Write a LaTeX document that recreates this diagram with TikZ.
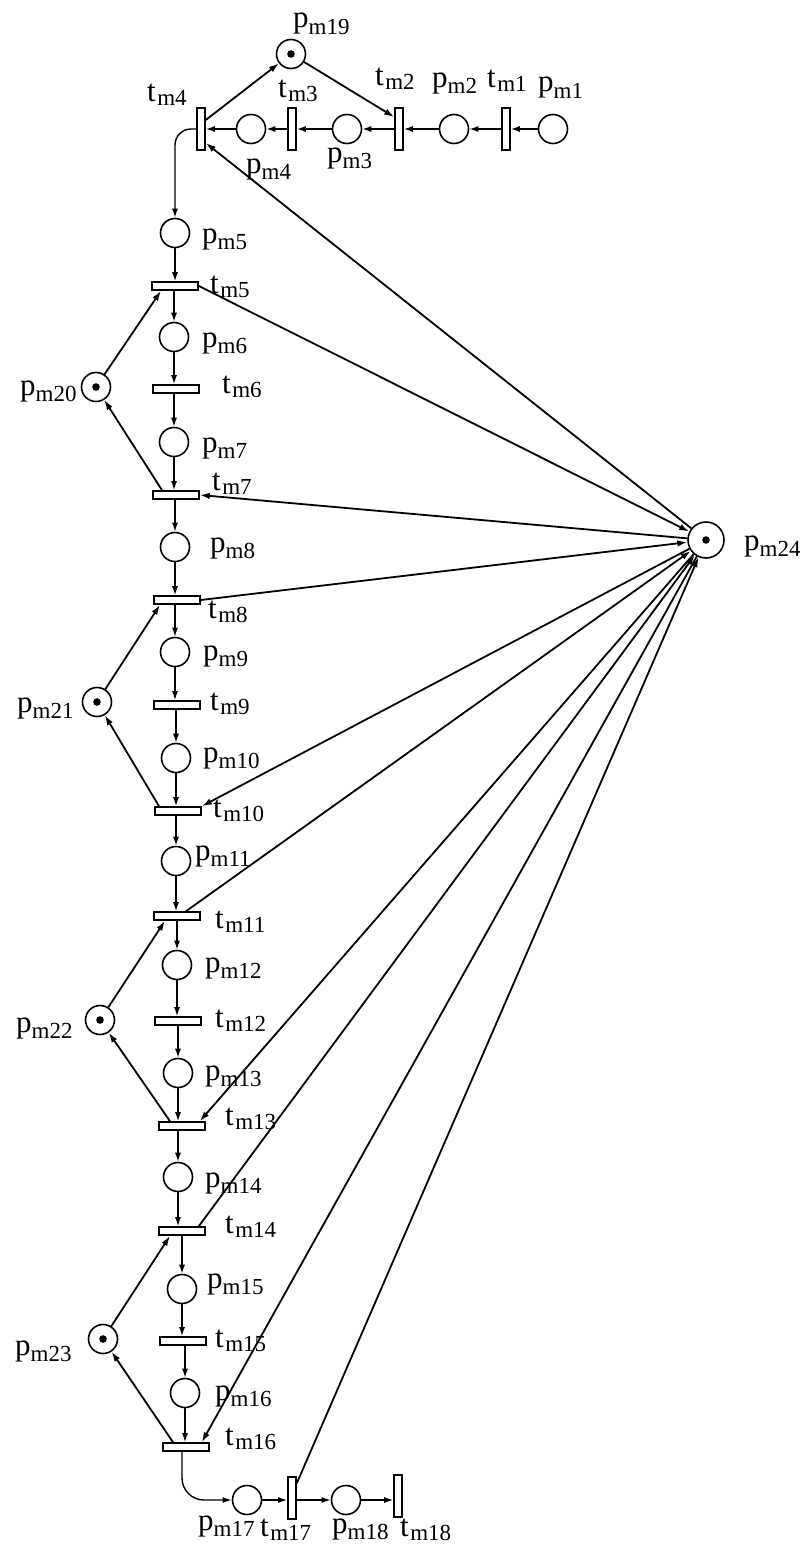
\documentclass[tikz,border=0pt]{standalone}
\usepackage{fontspec}
\setmainfont{Liberation Serif}
\usetikzlibrary{arrows.meta,calc}
\newcommand{\pl}[2]{#1\raisebox{-6pt}{\fontsize{23}{23}\selectfont #2}}
\newcommand{\tl}[2]{#1\kern1.5pt\raisebox{-4pt}{\fontsize{23}{23}\selectfont #2}}
\begin{document}
\begin{tikzpicture}[x=1pt,y=-1pt,
  place/.style={circle,draw,line width=1.6pt,minimum size=29pt,inner sep=0pt,fill=white},
  htr/.style={rectangle,draw,line width=1.6pt,minimum width=46pt,minimum height=8pt,inner sep=0pt,fill=white},
  vtr/.style={rectangle,draw,line width=1.6pt,minimum width=8pt,minimum height=42pt,inner sep=0pt,fill=white},
  lab/.style={anchor=base west,inner sep=0pt,font=\fontsize{31}{31}\selectfont},
  arc/.style={line width=1.8pt,-{Latex[length=10pt,width=6.5pt]}},
  carc/.style={line width=1.4pt,-{Latex[length=9pt,width=6pt]}}
]
\useasboundingbox (0,0) rectangle (800,1555);
% top row
\node[place] (pm1) at (553,129) {};
\node[vtr] (tm1) at (506,129) {};
\node[place] (pm2) at (454,129) {};
\node[vtr] (tm2) at (399,129) {};
\node[place] (pm3) at (347,129) {};
\node[vtr] (tm3) at (292,129) {};
\node[place] (pm4) at (251,129) {};
\node[vtr] (tm4) at (201,129) {};
\node[place] (pm19) at (291,54) {};
% column
\node[place] (pm5) at (175,233) {};
\node[htr] (tm5) at (175,286) {};
\node[place] (pm6) at (174,337) {};
\node[htr] (tm6) at (176,389) {};
\node[place] (pm7) at (174,442) {};
\node[htr] (tm7) at (176,495) {};
\node[place] (pm8) at (175,547) {};
\node[htr] (tm8) at (177,600) {};
\node[place] (pm9) at (175,652) {};
\node[htr] (tm9) at (177,705) {};
\node[place] (pm10) at (176,758) {};
\node[htr] (tm10) at (178,811) {};
\node[place] (pm11) at (176,861) {};
\node[htr] (tm11) at (177,916) {};
\node[place] (pm12) at (177,965) {};
\node[htr] (tm12) at (178,1021) {};
\node[place] (pm13) at (178,1073) {};
\node[htr] (tm13) at (182,1126) {};
\node[place] (pm14) at (178,1177) {};
\node[htr] (tm14) at (182,1231) {};
\node[place] (pm15) at (182,1289) {};
\node[htr] (tm15) at (183,1341) {};
\node[place] (pm16) at (185,1393) {};
\node[htr] (tm16) at (186,1447) {};
% bottom row
\node[place] (pm17) at (247,1500) {};
\node[vtr] (tm17) at (292,1498) {};
\node[place] (pm18) at (346,1500) {};
\node[vtr] (tm18) at (398,1496) {};
% side places
\node[place] (pm20) at (96,387) {};
\node[place] (pm21) at (97,702) {};
\node[place] (pm22) at (100,1020) {};
\node[place] (pm23) at (103,1339) {};
\node[place,minimum size=36pt] (pm24) at (706,540) {};
% tokens
\foreach \n in {pm19,pm20,pm21,pm22,pm23,pm24}
  \fill (\n) circle[radius=3.8pt];
% top row arcs
\draw[carc] (pm1) -- (tm1);
\draw[carc] (tm1) -- (pm2);
\draw[carc] (pm2) -- (tm2);
\draw[carc] (tm2) -- (pm3);
\draw[carc] (pm3) -- (tm3);
\draw[carc] (tm3) -- (pm4);
\draw[carc] (pm4) -- (tm4);
\draw[arc] ([yshift=9pt]tm4.east) -- (pm19);
\draw[arc] (pm19) -- ([yshift=12pt]tm2.west);
\draw[carc,rounded corners=16pt] (tm4.west) -| (pm5.north);
% column arcs
\foreach \a in {5,...,16}
  \draw[carc] (pm\a) -- (pm\a |- tm\a.north);
\foreach \a/\b in {5/6,6/7,7/8,8/9,9/10,10/11,11/12,12/13,13/14,14/15,15/16}
  \draw[carc] (tm\a.south -| pm\b) -- (pm\b);
% bottom arcs
\draw[carc,rounded corners=22pt] ([xshift=-4pt]tm16.south) |- (pm17.west);
\draw[carc] (pm17) -- (pm17 -| tm17.west);
\draw[carc] (pm17 -| tm17.east) -- (pm18);
\draw[carc] (pm18) -- (pm18 -| tm18.west);
% side loops
\draw[arc] (pm20) -- ([xshift=-14pt]tm5.south);
\draw[arc] ([xshift=-14pt]tm7.north) -- (pm20);
\draw[arc] (pm21) -- ([xshift=-17pt]tm8.south);
\draw[arc] ([xshift=-19pt]tm10.north) -- (pm21);
\draw[arc] (pm22) -- ([xshift=-12pt]tm11.south);
\draw[arc] ([xshift=-12pt]tm13.north) -- (pm22);
\draw[arc] (pm23) -- ([xshift=-12pt]tm14.south);
\draw[arc] ([xshift=-13pt]tm16.north) -- (pm23);
% resource place pm24
\draw[arc] (pm24) -- ([yshift=-14pt]tm4.east);
\draw[arc] (tm5.east) -- (pm24);
\draw[arc] (pm24) -- (tm7.east);
\draw[arc] (tm8.east) -- (pm24);
\draw[arc] (pm24) -- (tm10.north east);
\draw[arc] ([xshift=9pt]tm11.north) -- (pm24);
\draw[arc] (pm24) -- ([xshift=-6pt]tm13.north east);
\draw[arc] ([xshift=-7pt]tm14.north east) -- (pm24);
\draw[arc] (pm24) -- ([xshift=-8pt]tm16.north east);
\draw[arc] ([yshift=-7pt]tm17.north east) -- (pm24);
% labels
\node[lab] (lpm19) at (293,28) {\pl{p}{m19}};
\node[lab] (ltm4) at (147,101) {\tl{t}{m4}};
\node[lab] (ltm3) at (278,97) {\tl{t}{m3}};
\node[lab] (ltm2) at (375,85) {\tl{t}{m2}};
\node[lab] (lpm2) at (432,87) {\pl{p}{m2}};
\node[lab] (ltm1) at (487,87) {\tl{t}{m1}};
\node[lab] (lpm1) at (538,92) {\pl{p}{m1}};
\node[lab] (lpm3) at (327,162) {\pl{p}{m3}};
\node[lab] (lpm4) at (246,173) {\pl{p}{m4}};
\node[lab] (lpm5) at (202,243) {\pl{p}{m5}};
\node[lab] (ltm5) at (210,293) {\tl{t}{m5}};
\node[lab] (lpm6) at (202,347) {\pl{p}{m6}};
\node[lab] (ltm6) at (222,393) {\tl{t}{m6}};
\node[lab] (lpm7) at (202,452) {\pl{p}{m7}};
\node[lab] (ltm7) at (212,490) {\tl{t}{m7}};
\node[lab] (lpm8) at (210,552) {\pl{p}{m8}};
\node[lab] (ltm8) at (208,618) {\tl{t}{m8}};
\node[lab] (lpm9) at (203,660) {\pl{p}{m9}};
\node[lab] (ltm9) at (210,710) {\tl{t}{m9}};
\node[lab] (lpm10) at (203,762) {\pl{p}{m10}};
\node[lab] (ltm10) at (213,817) {\tl{t}{m10}};
\node[lab] (lpm11) at (195,860) {\pl{p}{m11}};
\node[lab] (ltm11) at (215,928) {\tl{t}{m11}};
\node[lab] (lpm12) at (205,972) {\pl{p}{m12}};
\node[lab] (ltm12) at (215,1027) {\tl{t}{m12}};
\node[lab] (lpm13) at (205,1080) {\pl{p}{m13}};
\node[lab] (ltm13) at (225,1125) {\tl{t}{m13}};
\node[lab] (lpm14) at (205,1187) {\pl{p}{m14}};
\node[lab] (ltm14) at (225,1233) {\tl{t}{m14}};
\node[lab] (lpm15) at (207,1288) {\pl{p}{m15}};
\node[lab] (ltm15) at (215,1347) {\tl{t}{m15}};
\node[lab] (lpm16) at (215,1400) {\pl{p}{m16}};
\node[lab] (ltm16) at (225,1445) {\tl{t}{m16}};
\node[lab] (lpm17) at (198,1530) {\pl{p}{m17}};
\node[lab] (ltm17) at (260,1536) {\tl{t}{m17}};
\node[lab] (lpm18) at (332,1533) {\pl{p}{m18}};
\node[lab] (ltm18) at (400,1536) {\tl{t}{m18}};
\node[lab] (lpm20) at (20,395) {\pl{p}{m20}};
\node[lab] (lpm21) at (17,712) {\pl{p}{m21}};
\node[lab] (lpm22) at (16,1032) {\pl{p}{m22}};
\node[lab] (lpm23) at (15,1355) {\pl{p}{m23}};
\node[lab] (lpm24) at (744,550) {\pl{p}{m24}};
\end{tikzpicture}
\end{document}
